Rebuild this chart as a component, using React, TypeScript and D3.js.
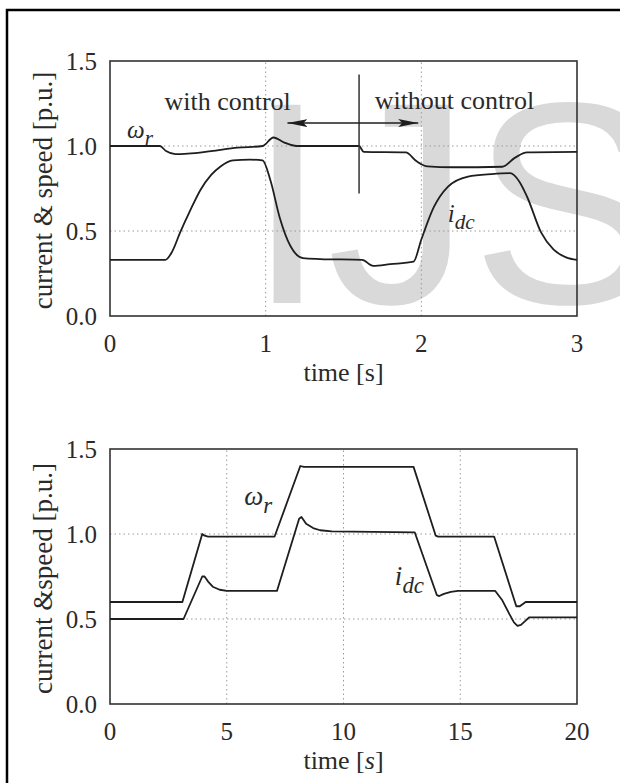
import * as d3 from 'd3';
import React from 'react';

// top chart: torque step, with / without control
const topOmegaT = [0, 0.32, 0.36, 0.42, 0.5, 0.65, 0.82, 0.98, 1.05, 1.12, 1.2, 1.6, 1.63, 1.9, 1.97, 2.04, 2.2, 2.52, 2.6, 2.68, 3.0];
const topOmegaV = [1.0, 1.0, 0.97, 0.952, 0.955, 0.97, 0.99, 1.0, 1.05, 1.02, 1.0, 1.0, 0.965, 0.962, 0.91, 0.88, 0.875, 0.878, 0.93, 0.962, 0.965];
const topIdcT = [0, 0.355, 0.4, 0.45, 0.52, 0.58, 0.65, 0.71, 0.79, 0.9, 0.98, 1.03, 1.09, 1.16, 1.24, 1.35, 1.62, 1.69, 1.8, 1.95, 2.0, 2.08, 2.17, 2.3, 2.45, 2.57, 2.63, 2.68, 2.77, 2.85, 2.93, 3.0];
const topIdcV = [0.33, 0.33, 0.38, 0.49, 0.63, 0.74, 0.83, 0.88, 0.915, 0.92, 0.915, 0.8, 0.58, 0.41, 0.34, 0.335, 0.33, 0.295, 0.305, 0.32, 0.45, 0.64, 0.76, 0.82, 0.835, 0.84, 0.79, 0.7, 0.49, 0.39, 0.345, 0.33];
const topXTicks = [0, 1, 2, 3];

// bottom chart: speed steps
const botOmegaT = [0, 3.1, 3.95, 4.05, 4.2, 7.05, 8.15, 8.3, 13.0, 13.95, 14.05, 16.45, 17.4, 17.55, 17.8, 20];
const botOmegaV = [0.6, 0.6, 1.0, 0.99, 0.985, 0.985, 1.4, 1.395, 1.395, 0.99, 0.985, 0.985, 0.575, 0.575, 0.6, 0.6];
const botIdcT = [0, 3.15, 3.95, 4.05, 4.2, 4.4, 4.7, 5.0, 7.15, 8.1, 8.2, 8.4, 8.7, 9.0, 9.5, 13.05, 14.0, 14.1, 14.3, 14.6, 14.9, 16.5, 16.8, 17.1, 17.3, 17.45, 17.6, 17.8, 17.95, 20];
const botIdcV = [0.5, 0.5, 0.75, 0.75, 0.72, 0.69, 0.672, 0.665, 0.665, 1.09, 1.1, 1.06, 1.035, 1.022, 1.015, 1.01, 0.64, 0.635, 0.648, 0.66, 0.665, 0.665, 0.61, 0.53, 0.48, 0.46, 0.465, 0.49, 0.51, 0.51];
const botXTicks = [0, 5, 10, 15, 20];

const yTicks = [0, 0.5, 1.0, 1.5];

const serif = "'Liberation Serif', 'Times New Roman', serif";
const ink = '#1e1e1e';

function Panel({ top, xMax, xTicks, omegaT, omegaV, idcT, idcV, yTitle, italicS, curve, children }) {
    const x = d3.scaleLinear().domain([0, xMax]).range([110, 577]);
    const y = d3.scaleLinear().domain([0, 1.5]).range([top + 255, top]);
    const line = d3.line().x(d => x(d[0])).y(d => y(d[1])).curve(curve);
    const omega = omegaT.map((t, i) => [t, omegaV[i]]);
    const idc = idcT.map((t, i) => [t, idcV[i]]);

    return (
        <g>
            {/* grid */}
            {xTicks.slice(1, -1).map(t => (
                <line key={'gx' + t} x1={x(t)} x2={x(t)} y1={y(0)} y2={y(1.5)}
                    stroke="#9a9a9a" strokeWidth={1} strokeDasharray="1.5,3" />
            ))}
            {yTicks.slice(1, -1).map(v => (
                <line key={'gy' + v} x1={x(0)} x2={x(xMax)} y1={y(v)} y2={y(v)}
                    stroke="#9a9a9a" strokeWidth={1} strokeDasharray="1.5,3" />
            ))}
            <rect x={x(0)} y={y(1.5)} width={x(xMax) - x(0)} height={y(0) - y(1.5)}
                fill="none" stroke="#333" strokeWidth={1.6} />

            {/* curves */}
            <path d={line(omega)} fill="none" stroke={ink} strokeWidth={1.8} strokeLinejoin="round" />
            <path d={line(idc)} fill="none" stroke={ink} strokeWidth={1.8} strokeLinejoin="round" />

            {/* ticks */}
            {yTicks.map(v => (
                <text key={'ty' + v} x={97} y={y(v)} dy="0.35em" textAnchor="end"
                    fontFamily={serif} fontSize={25} fill="#2a2a2a">{v.toFixed(1)}</text>
            ))}
            {xTicks.map(t => (
                <text key={'tx' + t} x={x(t)} y={y(0) + 36} textAnchor="middle"
                    fontFamily={serif} fontSize={25} fill="#2a2a2a">{t}</text>
            ))}
            <text x={x(xMax / 2)} y={y(0) + 65} textAnchor="middle"
                fontFamily={serif} fontSize={26} fill="#2a2a2a">
                time [<tspan fontStyle={italicS ? 'italic' : 'normal'}>s</tspan>]
            </text>
            <text transform={`translate(52, ${(y(0) + y(1.5)) / 2 + 2}) rotate(-90)`} textAnchor="middle"
                fontFamily={serif} fontSize={27} fill="#2a2a2a">{yTitle}</text>
            {children(x, y)}
        </g>
    );
}

function Sym({ px, py, base, sub, size }) {
    return (
        <text x={px} y={py} fontFamily={serif} fontStyle="italic" fontSize={size} fill="#2a2a2a">
            {base}<tspan dy={size * 0.3} fontSize={size * 0.85}>{sub}</tspan>
        </text>
    );
}

export default function App() {
    return (
        <svg width={620} height={783} style={{ position: 'absolute', left: 0, top: 0, background: '#fff' }}>
            <defs>
                <marker id="ah" viewBox="0 0 20 8" refX={20} refY={4} markerWidth={20} markerHeight={8}
                    markerUnits="userSpaceOnUse" orient="auto-start-reverse">
                    <path d="M0,0 L20,4 L0,8 L4,4 Z" fill={ink} />
                </marker>
            </defs>
            <rect x={0} y={0} width={620} height={783} fill="#fff" />
            <rect x={7} y={10} width={700} height={900} fill="none" stroke="#000" strokeWidth={2.5} />

            {/* watermark */}
            <text x={247} y={303} fontFamily="'Liberation Sans', Arial, sans-serif" fontSize={288}
                fill="#d9d9d9">IJS</text>

            <Panel top={61} xMax={3} xTicks={topXTicks} omegaT={topOmegaT} omegaV={topOmegaV}
                idcT={topIdcT} idcV={topIdcV} yTitle="current & speed [p.u.]" italicS={false}
                curve={d3.curveMonotoneX}>
                {(x, y) => (
                    <g>
                        <line x1={x(1.6)} x2={x(1.6)} y1={y(1.42)} y2={y(0.72)} stroke="#333" strokeWidth={1.5} />
                        <line x1={x(1.14)} x2={x(1.98)} y1={y(1.135)} y2={y(1.135)} stroke={ink} strokeWidth={1.6}
                            markerStart="url(#ah)" markerEnd="url(#ah)" />
                        <text x={x(0.35)} y={y(1.212)} fontFamily={serif} fontSize={26} fill="#2a2a2a">with control</text>
                        <text x={x(1.7)} y={y(1.22)} fontFamily={serif} fontSize={26} fill="#2a2a2a">without control</text>
                        <Sym px={x(0.11)} py={y(1.05)} base="ω" sub="r" size={25} />
                        <Sym px={x(2.17)} py={y(0.555)} base="i" sub="dc" size={25} />
                    </g>
                )}
            </Panel>

            <Panel top={449} xMax={20} xTicks={botXTicks} omegaT={botOmegaT} omegaV={botOmegaV}
                idcT={botIdcT} idcV={botIdcV} yTitle="current &speed [p.u.]" italicS={true}
                curve={d3.curveLinear}>
                {(x, y) => (
                    <g>
                        <Sym px={x(5.75)} py={y(1.17)} base="ω" sub="r" size={27} />
                        <Sym px={x(12.2)} py={y(0.7)} base="i" sub="dc" size={27} />
                    </g>
                )}
            </Panel>
        </svg>
    );
}
